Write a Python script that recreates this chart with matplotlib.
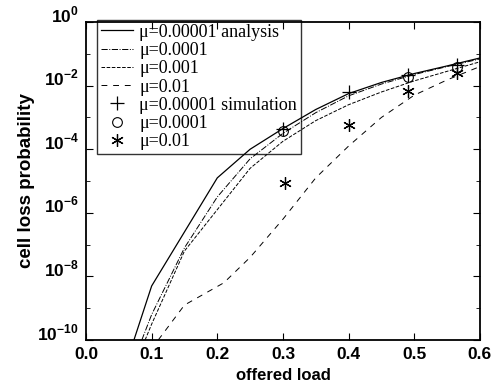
import matplotlib
matplotlib.use("Agg")
import matplotlib.pyplot as plt
from matplotlib.ticker import FixedLocator, FixedFormatter
import numpy as np

plt.rcParams['mathtext.fontset'] = 'custom'
plt.rcParams['mathtext.rm'] = 'Liberation Sans:bold'
plt.rcParams['mathtext.bf'] = 'Liberation Sans:bold'

# analysis curves: offered load and log10(cell loss probability)
load_a1 = [0.073, 0.10, 0.15, 0.20, 0.25, 0.30, 0.35, 0.40, 0.45, 0.50, 0.55, 0.60]
dec_a1 = [-10.0, -8.3, -6.6, -4.9, -4.0, -3.35, -2.75, -2.25, -1.9, -1.62, -1.38, -1.13]

load_a2 = [0.085, 0.10, 0.15, 0.20, 0.25, 0.30, 0.35, 0.40, 0.45, 0.50, 0.55, 0.60]
dec_a2 = [-10.0, -9.2, -7.1, -5.5, -4.3, -3.5, -2.85, -2.32, -1.95, -1.65, -1.4, -1.16]

load_a3 = [0.09, 0.10, 0.15, 0.20, 0.25, 0.30, 0.35, 0.40, 0.45, 0.50, 0.55, 0.60]
dec_a3 = [-10.0, -9.5, -7.2, -5.9, -4.6, -3.75, -3.1, -2.6, -2.2, -1.85, -1.55, -1.25]

load_a4 = [0.11, 0.15, 0.21, 0.25, 0.30, 0.35, 0.40, 0.45, 0.50, 0.55, 0.60]
dec_a4 = [-10.0, -8.9, -8.2, -7.4, -6.2, -4.9, -3.9, -3.0, -2.3, -1.82, -1.4]

# simulation points
load_s1 = [0.30, 0.40, 0.49, 0.565]
dec_s1 = [-3.36, -2.2, -1.67, -1.35]
load_s2 = [0.30, 0.49, 0.565]
dec_s2 = [-3.42, -1.72, -1.42]
load_s3 = [0.303, 0.40, 0.49, 0.565]
dec_s3 = [-5.07, -3.24, -2.17, -1.6]

fig = plt.figure(figsize=(5.03, 3.87), dpi=100)
ax = fig.add_axes([0.171, 0.1214, 0.783, 0.8216])

p = lambda d: 10.0 ** np.array(d)
ax.plot(load_a1, p(dec_a1), color='k', ls='-', lw=0.9, label='μ=0.00001 analysis')
ax.plot(load_a2, p(dec_a2), color='k', ls='-.', lw=0.7, label='μ=0.0001')
ax.plot(load_a3, p(dec_a3), color='k', ls='--', lw=0.7, label='μ=0.001')
ax.plot(load_a4, p(dec_a4), color='k', ls=(0, (6, 6)), lw=0.7, label='μ=0.01')
ax.plot(load_s1, p(dec_s1), '+', color='k', ms=10, mew=0.9, ls='none',
        label='μ=0.00001 simulation')
ax.plot(load_s2, p(dec_s2), 'o', color='k', mfc='none', ms=7, mew=0.8, ls='none',
        label='μ=0.0001')
ax.plot(load_s3, p(dec_s3), marker=(6, 2, 0), color='k', ms=9, mew=0.9, ls='none',
        label='μ=0.01')

ax.set_yscale('log')
ax.set_xlim(0, 0.6)
ax.set_ylim(1e-10, 1)

ax.set_xticks([0.0, 0.1, 0.2, 0.3, 0.4, 0.5, 0.6])
ax.set_xticklabels(['0.0', '0.1', '0.2', '0.3', '0.4', '0.5', '0.6'],
                   fontfamily='Liberation Sans', fontweight='bold', fontsize=12.5)
ytick_vals = [1, 1e-2, 1e-4, 1e-6, 1e-8, 1e-10]
ytick_text = [r'$10^{0}$', r'$10^{-2}$', r'$10^{-4}$', r'$10^{-6}$', r'$10^{-8}$', r'$10^{-10}$']
ax.yaxis.set_major_locator(FixedLocator(ytick_vals))
ax.yaxis.set_major_formatter(FixedFormatter(ytick_text))
ax.yaxis.set_minor_locator(FixedLocator([1e-1, 1e-3, 1e-5, 1e-7, 1e-9]))
ax.yaxis.set_minor_formatter(FixedFormatter([]))

ax.tick_params(which='both', direction='in', top=True, right=True)
ax.tick_params(which='major', length=5, width=0.8)
ax.tick_params(which='minor', length=3, width=0.6)
ax.tick_params(axis='x', pad=5)
ax.tick_params(axis='y', pad=5)
for lab in ax.get_yticklabels():
    lab.set_fontsize(12.5)
    lab.set_verticalalignment('baseline')
for s in ax.spines.values():
    s.set_linewidth(1.3)

ax.set_xlabel('offered load', fontfamily='Liberation Sans', fontweight='bold',
              fontsize=12, labelpad=4)
ax.set_ylabel('cell loss probability', fontfamily='Liberation Sans', fontweight='bold',
              fontsize=13.5, labelpad=2)

# the legend box is see-through in the original, curves show behind it
leg = ax.legend(loc='upper left', bbox_to_anchor=(0.028, 1.006), frameon=True,
                fancybox=False, prop={'family': 'Liberation Serif', 'size': 13},
                labelspacing=0.07, handlelength=1.8, handletextpad=0.35,
                borderpad=0.2, borderaxespad=0.0)
leg.get_frame().set_edgecolor('k')
leg.get_frame().set_linewidth(1.0)
leg.get_frame().set_facecolor('none')

fig.savefig('out.png', dpi=100)
